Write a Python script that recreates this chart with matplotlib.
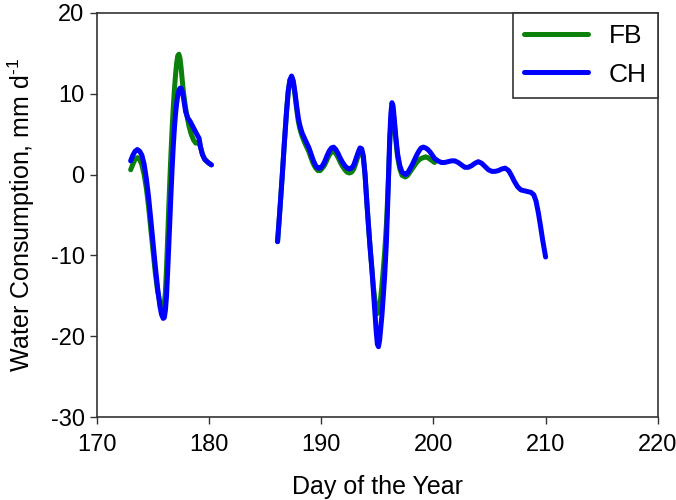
import matplotlib.pyplot as plt

plt.rcParams['font.family'] = ['Liberation Sans', 'DejaVu Sans']
plt.rcParams['mathtext.fontset'] = 'custom'
plt.rcParams['mathtext.rm'] = 'Liberation Sans'
plt.rcParams['axes.unicode_minus'] = False

# FB series, two measurement periods
fb_day_1 = [173.0, 173.2, 173.4, 173.6, 173.8, 174.0, 174.2, 174.4, 174.6, 174.8,
            175.0, 175.2, 175.4, 175.6, 175.75, 175.9, 176.0, 176.1, 176.2, 176.3,
            176.4, 176.5, 176.6, 176.7, 176.8, 176.9, 177.0, 177.1, 177.2, 177.3,
            177.4, 177.5, 177.6, 177.7, 177.85, 178.0, 178.2, 178.4, 178.6, 178.8,
            178.95, 179.1, 179.25, 179.4, 179.6, 179.9, 180.2]
fb_val_1 = [0.6, 1.3, 1.9, 2.1, 1.9, 1.2, 0.0, -1.7, -4.0, -6.8,
            -9.5, -12.2, -14.4, -15.8, -16.4, -16.5, -16.0, -14.5, -11.5, -7.8,
            -4.0, -0.5, 2.8, 5.8, 8.3, 10.5, 12.3, 13.8, 14.7, 14.9,
            14.4, 13.2, 11.7, 10.3, 8.7, 7.4, 6.0, 5.0, 4.3, 3.9,
            3.9, 3.9, 3.3, 2.5, 1.9, 1.5, 1.2]

fb_day_2 = [186.1, 186.3, 186.5, 186.7, 186.9, 187.05, 187.2, 187.35, 187.5, 187.65,
            187.8, 187.95, 188.1, 188.3, 188.5, 188.7, 188.9, 189.1, 189.3, 189.5,
            189.7, 189.9, 190.1, 190.3, 190.5, 190.7, 190.9, 191.1, 191.3, 191.5,
            191.7, 191.9, 192.1, 192.3, 192.5, 192.7, 192.9, 193.1, 193.3, 193.45,
            193.6, 193.75, 193.9, 194.05, 194.2, 194.35, 194.5, 194.65, 194.8, 194.9,
            195.0, 195.1, 195.2, 195.3, 195.4, 195.5, 195.65, 195.8, 195.9, 196.0,
            196.1, 196.2, 196.3, 196.4, 196.5, 196.65, 196.8, 197.0, 197.2, 197.5,
            197.7, 197.9, 198.1, 198.3, 198.5, 198.7, 198.9, 199.1, 199.3, 199.5,
            199.7, 199.9, 200.1]
fb_val_2 = [-8.3, -4.5, -0.5, 3.8, 7.8, 10.3, 11.7, 12.1, 11.4, 9.9,
            8.1, 6.6, 5.6, 4.7, 4.0, 3.4, 2.8, 2.0, 1.3, 0.8,
            0.5, 0.5, 0.8, 1.2, 1.8, 2.4, 2.8, 2.9, 2.6, 2.1,
            1.5, 1.0, 0.6, 0.3, 0.2, 0.3, 0.7, 1.5, 2.4, 2.9,
            2.9, 2.0, 0.0, -3.2, -6.2, -9.0, -11.5, -13.9, -15.8, -16.8,
            -17.2, -17.0, -16.3, -15.2, -13.8, -12.2, -9.6, -6.3, -3.3, 0.0,
            3.8, 6.5, 7.9, 7.8, 6.5, 4.2, 2.2, 0.7, -0.1, -0.3,
            -0.1, 0.3, 0.7, 1.1, 1.5, 1.8, 2.0, 2.1, 2.2, 2.1,
            1.9, 1.7, 1.5]

# CH series, two measurement periods
ch_day_1 = [173.0, 173.2, 173.4, 173.6, 173.8, 174.0, 174.2, 174.4, 174.6, 174.8,
            175.0, 175.2, 175.4, 175.6, 175.75, 175.9, 176.0, 176.1, 176.2, 176.3,
            176.4, 176.5, 176.6, 176.7, 176.8, 176.9, 177.0, 177.1, 177.2, 177.3,
            177.4, 177.5, 177.6, 177.7, 177.8, 177.9, 178.1, 178.3, 178.6, 178.9,
            179.1, 179.25, 179.4, 179.6, 179.9, 180.2]
ch_val_1 = [1.7, 2.4, 2.9, 3.1, 2.9, 2.4, 1.3, -0.5, -2.8, -5.6,
            -8.5, -11.4, -14.0, -16.2, -17.3, -17.8, -17.7, -16.8, -15.0, -12.0,
            -8.8, -5.5, -2.2, 0.8, 3.5, 5.7, 7.5, 8.8, 9.8, 10.4,
            10.7, 10.7, 10.3, 9.6, 8.7, 7.8, 7.0, 6.6, 5.8, 5.0,
            4.5, 3.3, 2.5, 1.9, 1.5, 1.2]

ch_day_2 = [186.1, 186.3, 186.5, 186.7, 186.9, 187.05, 187.2, 187.35, 187.5, 187.65,
            187.8, 187.95, 188.1, 188.3, 188.5, 188.7, 188.9, 189.1, 189.3, 189.5,
            189.7, 189.9, 190.1, 190.3, 190.5, 190.7, 190.9, 191.1, 191.3, 191.5,
            191.7, 191.9, 192.1, 192.3, 192.5, 192.7, 192.9, 193.1, 193.3, 193.45,
            193.6, 193.75, 193.9, 194.05, 194.2, 194.35, 194.5, 194.65, 194.8, 194.9,
            195.0, 195.1, 195.2, 195.3, 195.4, 195.5, 195.65, 195.8, 195.9, 196.0,
            196.1, 196.2, 196.3, 196.4, 196.5, 196.65, 196.8, 197.0, 197.2, 197.5,
            197.7, 197.9, 198.1, 198.3, 198.5, 198.7, 198.9, 199.1, 199.3, 199.5,
            199.7, 199.9, 200.1, 200.4, 200.7, 201.0, 201.3, 201.6, 201.9, 202.2,
            202.5, 202.8, 203.1, 203.4, 203.7, 204.0, 204.3, 204.6, 204.9, 205.2,
            205.5, 205.8, 206.1, 206.4, 206.7, 206.95, 207.2, 207.5, 207.8, 208.1,
            208.4, 208.7, 208.95, 209.15, 209.35, 209.55, 209.75, 209.9, 210.0]
ch_val_2 = [-8.3, -4.5, -0.5, 3.8, 7.8, 10.3, 11.7, 12.2, 11.6, 10.2,
            8.5, 7.0, 6.0, 5.1, 4.5, 3.9, 3.3, 2.5, 1.7, 1.1,
            0.8, 0.8, 1.1, 1.6, 2.3, 2.9, 3.3, 3.4, 3.1, 2.6,
            2.0, 1.5, 1.1, 0.8, 0.7, 0.8, 1.2, 2.0, 2.8, 3.3,
            3.2, 2.3, 0.0, -3.2, -6.2, -9.0, -11.5, -14.5, -17.5, -19.5,
            -21.0, -21.3, -20.5, -19.0, -17.5, -15.6, -12.5, -8.5, -4.5, 0.0,
            4.5, 7.5, 8.9, 8.5, 7.0, 4.6, 2.6, 1.1, 0.3, 0.0,
            0.2, 0.7, 1.2, 1.8, 2.4, 2.9, 3.3, 3.4, 3.3, 3.1,
            2.8, 2.4, 2.0, 1.7, 1.5, 1.5, 1.6, 1.7, 1.7, 1.5,
            1.2, 0.9, 0.9, 1.1, 1.4, 1.6, 1.4, 1.0, 0.6, 0.4,
            0.4, 0.5, 0.7, 0.8, 0.5, -0.1, -0.8, -1.5, -1.9, -2.0,
            -2.1, -2.2, -2.5, -3.3, -4.7, -6.4, -8.2, -9.4, -10.2]

GREEN = '#0b800b'
BLUE = '#0000ff'

fig = plt.figure(figsize=(6.76, 5.0), dpi=100)
ax = fig.add_axes([0.1435, 0.166, 0.8295, 0.808])

style = dict(lw=3.6, solid_capstyle='round', solid_joinstyle='round')
ax.plot(fb_day_1, fb_val_1, color=GREEN, label='FB', **style)
ax.plot(fb_day_2, fb_val_2, color=GREEN, **style)
ax.plot(ch_day_1, ch_val_1, color=BLUE, label='CH', **style)
ax.plot(ch_day_2, ch_val_2, color=BLUE, **style)

ax.set_xlim(170, 220)
ax.set_ylim(-30, 20)
ax.set_xticks(range(170, 221, 10))
ax.set_yticks(range(-30, 21, 10))
ax.tick_params(direction='out', length=5, width=1, labelsize=17, pad=4, color='#333333')
ax.tick_params(axis='x', pad=7)
for sp in ax.spines.values():
    sp.set_color('#333333')
    sp.set_linewidth(1.2)

ax.set_xlabel('Day of the Year', fontsize=18, labelpad=14)
ax.set_ylabel(r'Water Consumption, mm d$^{\text{-1}}$', fontsize=18, labelpad=10)

leg = ax.legend(loc='upper right', borderaxespad=0, fontsize=19, fancybox=False,
                handlelength=2.4, handletextpad=0.8, borderpad=0.42, labelspacing=0.55,
                edgecolor='#333333', framealpha=1)
leg.get_frame().set_linewidth(1.2)

fig.savefig('out.png', dpi=100)
